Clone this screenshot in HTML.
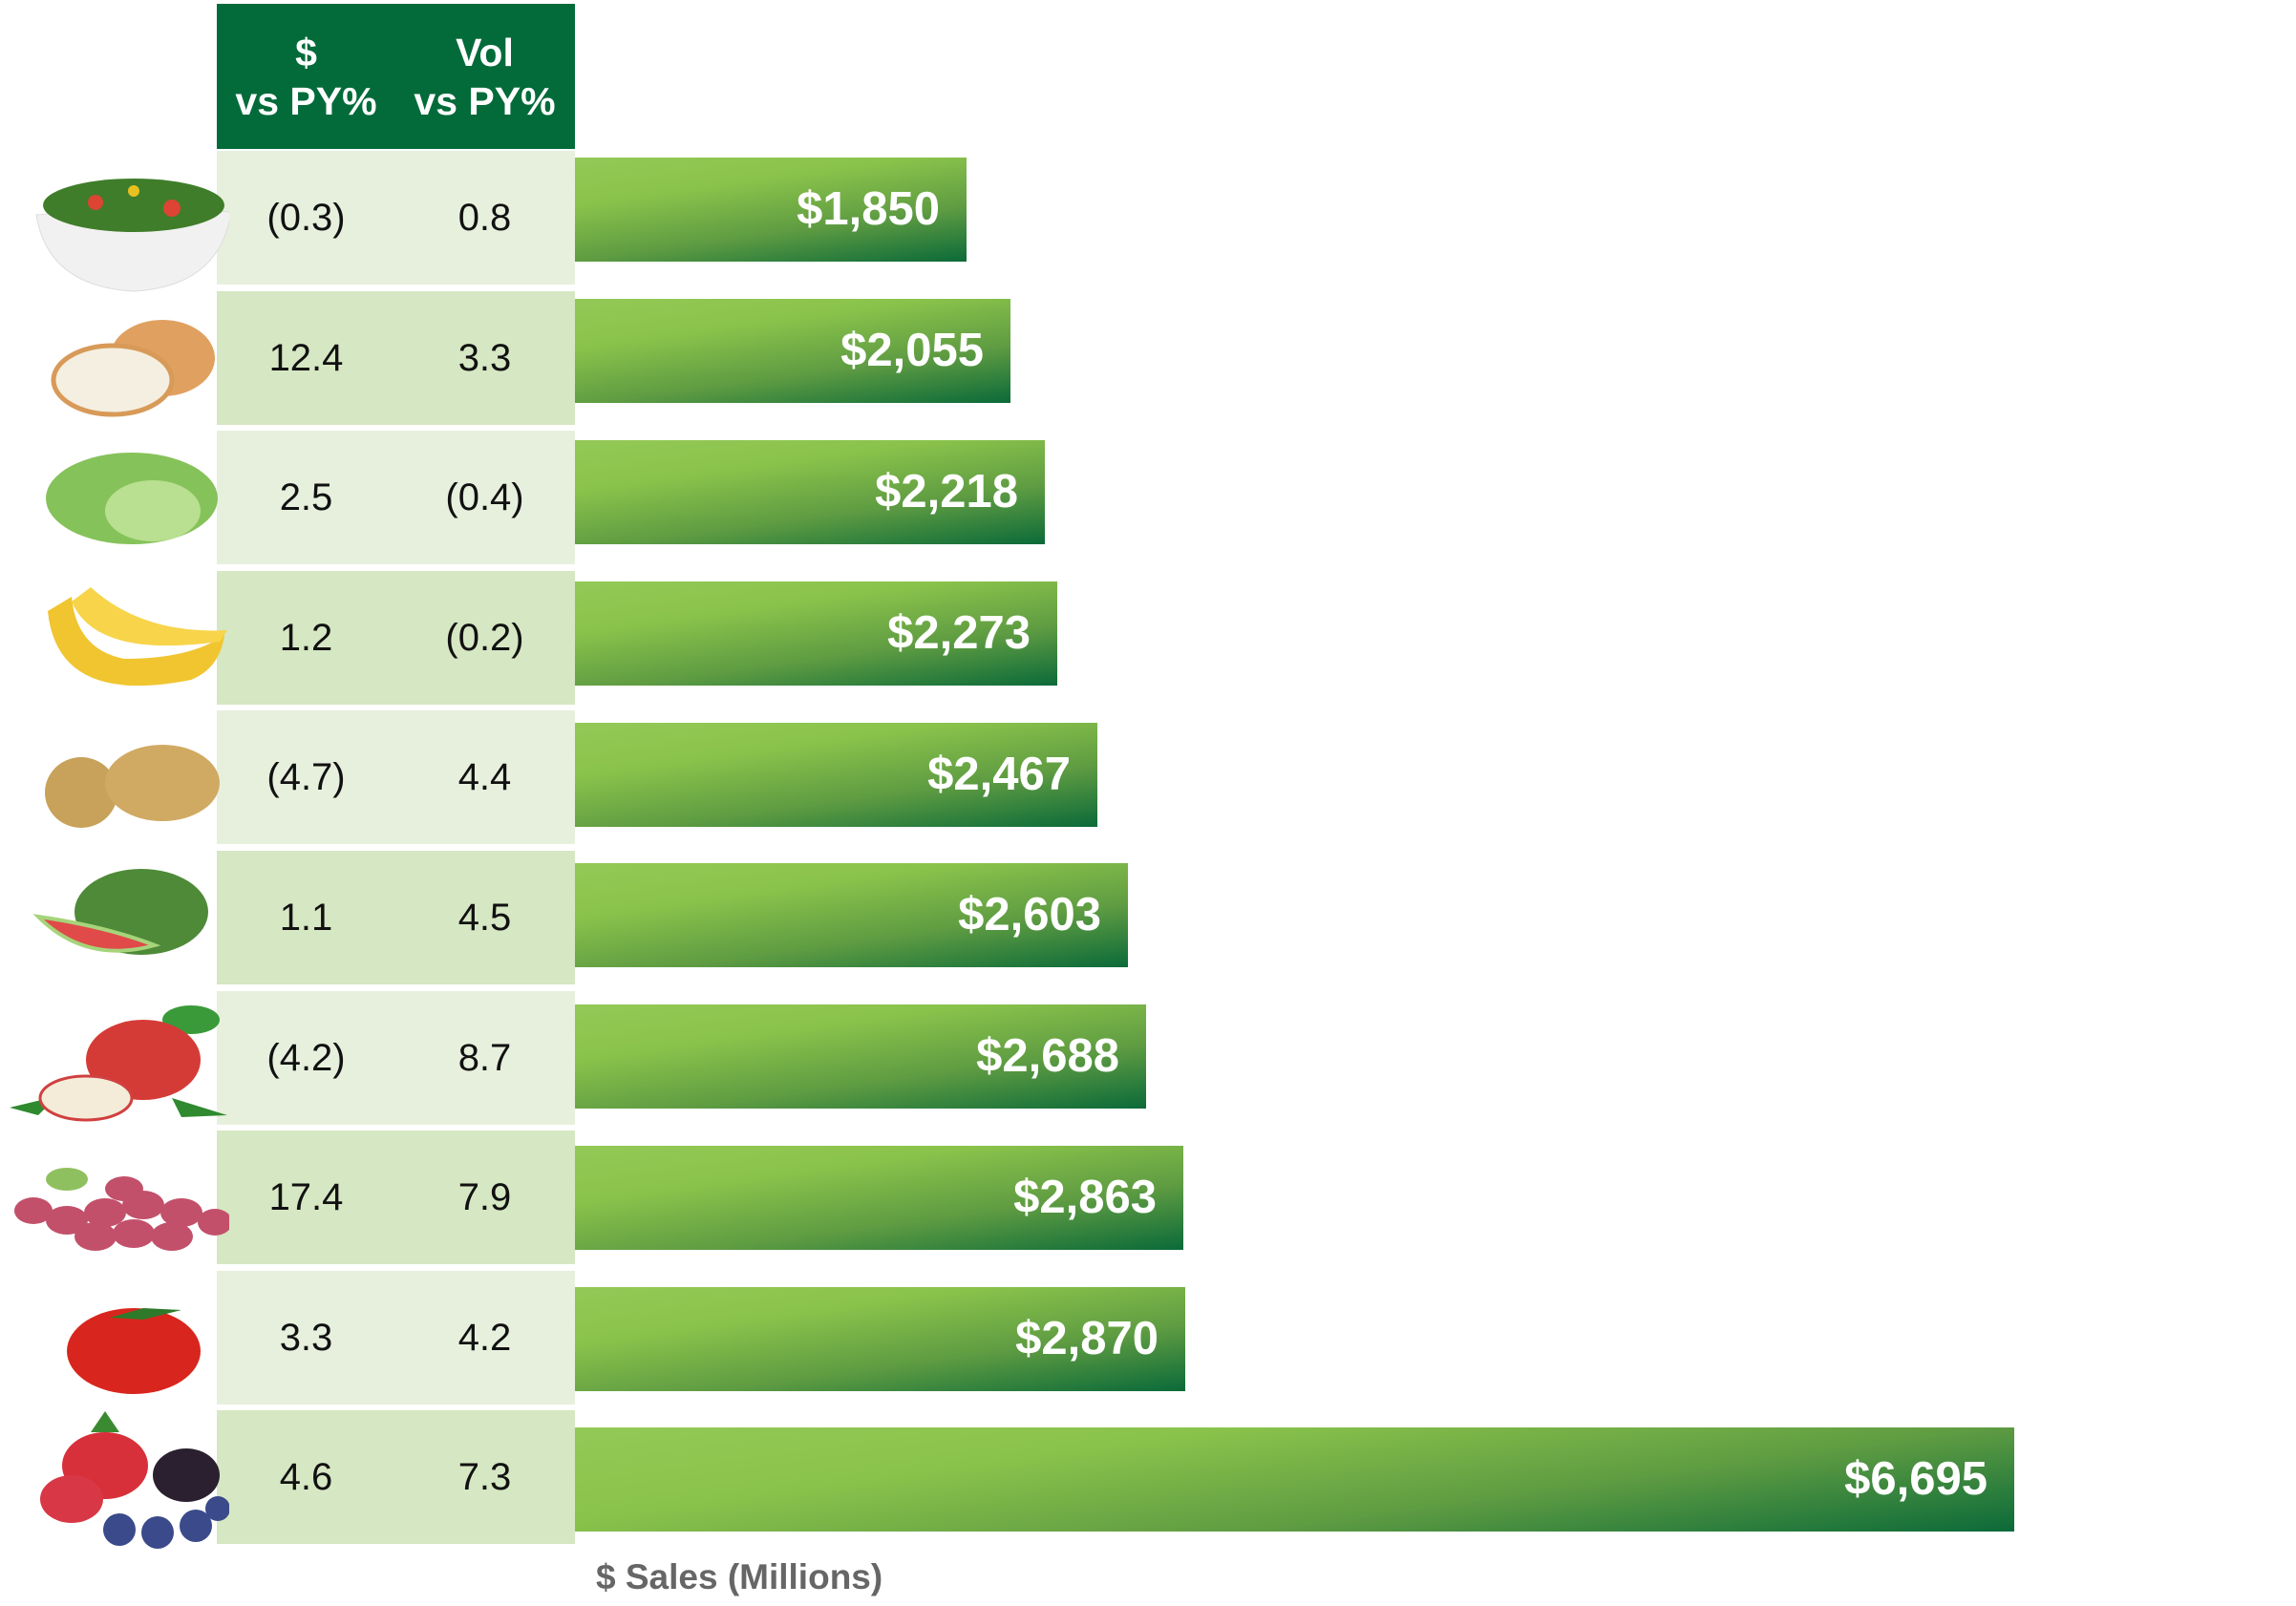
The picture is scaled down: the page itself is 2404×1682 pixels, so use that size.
<!DOCTYPE html>
<html><head><meta charset="utf-8"><style>
html,body{margin:0;padding:0;background:#fff;}
body{width:2404px;height:1682px;position:relative;overflow:hidden;font-family:"Liberation Sans",Arial,sans-serif;}
.hdr{position:absolute;left:227px;top:4px;width:375px;height:152px;background:#036b3a;color:#fff;font-weight:bold;font-size:41px;}
.hdr div{position:absolute;top:26px;width:187px;text-align:center;line-height:51px;}
.row{position:absolute;left:227px;width:375px;height:140px;}
.row span{position:absolute;top:0;line-height:140px;width:187px;text-align:center;font-size:40px;color:#111;}
.bar{position:absolute;left:602px;height:109px;background:linear-gradient(172deg,#93c957 0%,#8ac34b 30%,#5f9c42 65%,#0b6a39 100%);}
.bar span{position:absolute;right:28px;top:0;line-height:109px;color:#fff;font-weight:bold;font-size:49px;}
.lab{position:absolute;left:624px;top:1631px;font-size:37px;font-weight:bold;color:#666;}
svg{position:absolute;left:0;top:0;}
</style></head><body>
<div class="hdr"><div style="left:0">$<br>vs PY%</div><div style="left:187px">Vol<br>vs PY%</div></div>

<div class="row" style="top:158px;background:#e7f0dd"><span style="left:0">(0.3)</span><span style="left:187px">0.8</span></div>
<div class="row" style="top:305px;background:#d6e7c3"><span style="left:0">12.4</span><span style="left:187px">3.3</span></div>
<div class="row" style="top:451px;background:#e7f0dd"><span style="left:0">2.5</span><span style="left:187px">(0.4)</span></div>
<div class="row" style="top:598px;background:#d6e7c3"><span style="left:0">1.2</span><span style="left:187px">(0.2)</span></div>
<div class="row" style="top:744px;background:#e7f0dd"><span style="left:0">(4.7)</span><span style="left:187px">4.4</span></div>
<div class="row" style="top:891px;background:#d6e7c3"><span style="left:0">1.1</span><span style="left:187px">4.5</span></div>
<div class="row" style="top:1038px;background:#e7f0dd"><span style="left:0">(4.2)</span><span style="left:187px">8.7</span></div>
<div class="row" style="top:1184px;background:#d6e7c3"><span style="left:0">17.4</span><span style="left:187px">7.9</span></div>
<div class="row" style="top:1331px;background:#e7f0dd"><span style="left:0">3.3</span><span style="left:187px">4.2</span></div>
<div class="row" style="top:1477px;background:#d6e7c3"><span style="left:0">4.6</span><span style="left:187px">7.3</span></div>

<div class="bar" style="top:165px;width:410px"><span>$1,850</span></div>
<div class="bar" style="top:313px;width:456px"><span>$2,055</span></div>
<div class="bar" style="top:461px;width:492px"><span>$2,218</span></div>
<div class="bar" style="top:609px;width:505px"><span>$2,273</span></div>
<div class="bar" style="top:757px;width:547px"><span>$2,467</span></div>
<div class="bar" style="top:904px;width:579px"><span>$2,603</span></div>
<div class="bar" style="top:1052px;width:598px"><span>$2,688</span></div>
<div class="bar" style="top:1200px;width:637px"><span>$2,863</span></div>
<div class="bar" style="top:1348px;width:639px"><span>$2,870</span></div>
<div class="bar" style="top:1495px;width:1507px"><span>$6,695</span></div>
<div class="lab">$ Sales (Millions)</div>

<svg width="240" height="1682" viewBox="0 0 240 1682">
<path d="M38 225 Q140 215 242 222 Q230 300 140 305 Q50 300 38 225Z" fill="#f1f1f1" stroke="#ddd"/>
<ellipse cx="140" cy="215" rx="95" ry="28" fill="#3f7d2a"/>
<circle cx="100" cy="212" r="8" fill="#d43"/><circle cx="180" cy="218" r="9" fill="#d43"/><circle cx="140" cy="200" r="6" fill="#e8c020"/>
<ellipse cx="170" cy="375" rx="55" ry="40" fill="#e0a060"/>
<ellipse cx="118" cy="398" rx="62" ry="36" fill="#f4efe0" stroke="#d89a58" stroke-width="5"/>
<ellipse cx="138" cy="522" rx="90" ry="48" fill="#86c25a"/>
<ellipse cx="160" cy="535" rx="50" ry="32" fill="#b8e090"/>
<path d="M50 640 Q60 740 200 712 Q230 700 235 665 Q200 690 130 690 Q80 680 75 625Z" fill="#f0c530"/>
<path d="M75 630 Q100 690 230 672 L238 660 Q150 665 95 615Z" fill="#f7d44a"/>
<ellipse cx="85" cy="830" rx="38" ry="37" fill="#c8a25a"/>
<ellipse cx="170" cy="820" rx="60" ry="40" fill="#d0aa62"/>
<ellipse cx="148" cy="955" rx="70" ry="45" fill="#4e8a38"/>
<path d="M40 960 Q90 1010 162 990 Q110 970 40 960Z" fill="#e04a48" stroke="#a6d47a" stroke-width="4"/>
<path d="M10 1160 L60 1148 L40 1168Z" fill="#2f8a2f"/><path d="M180 1150 L238 1168 L190 1170Z" fill="#2f8a2f"/>
<ellipse cx="200" cy="1068" rx="30" ry="15" fill="#3a9a3a"/>
<ellipse cx="150" cy="1110" rx="60" ry="42" fill="#d53b36"/>
<ellipse cx="90" cy="1150" rx="48" ry="23" fill="#f4ecd8" stroke="#d04040" stroke-width="3"/>
<ellipse cx="70" cy="1235" rx="22" ry="12" fill="#8fc060"/>
<g fill="#c2506a">
<ellipse cx="35" cy="1268" rx="20" ry="14"/><ellipse cx="70" cy="1278" rx="22" ry="15"/><ellipse cx="110" cy="1270" rx="22" ry="15"/><ellipse cx="150" cy="1262" rx="22" ry="15"/><ellipse cx="190" cy="1270" rx="22" ry="15"/><ellipse cx="225" cy="1280" rx="18" ry="14"/><ellipse cx="100" cy="1295" rx="22" ry="15"/><ellipse cx="140" cy="1292" rx="22" ry="15"/><ellipse cx="180" cy="1295" rx="22" ry="15"/><ellipse cx="130" cy="1245" rx="20" ry="13"/>
</g>
<ellipse cx="140" cy="1415" rx="70" ry="45" fill="#d8261e"/>
<path d="M115 1380 L150 1370 L190 1372 L150 1382Z" fill="#2e7a2a"/>
<ellipse cx="110" cy="1535" rx="45" ry="35" fill="#d8303a"/>
<ellipse cx="75" cy="1570" rx="33" ry="25" fill="#d83845"/>
<ellipse cx="195" cy="1545" rx="35" ry="28" fill="#2a2030"/>
<g fill="#3a4a8a"><circle cx="125" cy="1602" r="17"/><circle cx="165" cy="1605" r="17"/><circle cx="205" cy="1598" r="17"/><circle cx="228" cy="1580" r="13"/></g>
<path d="M95 1500 L110 1478 L125 1500Z" fill="#3a8a30"/>
</svg>
</body></html>
